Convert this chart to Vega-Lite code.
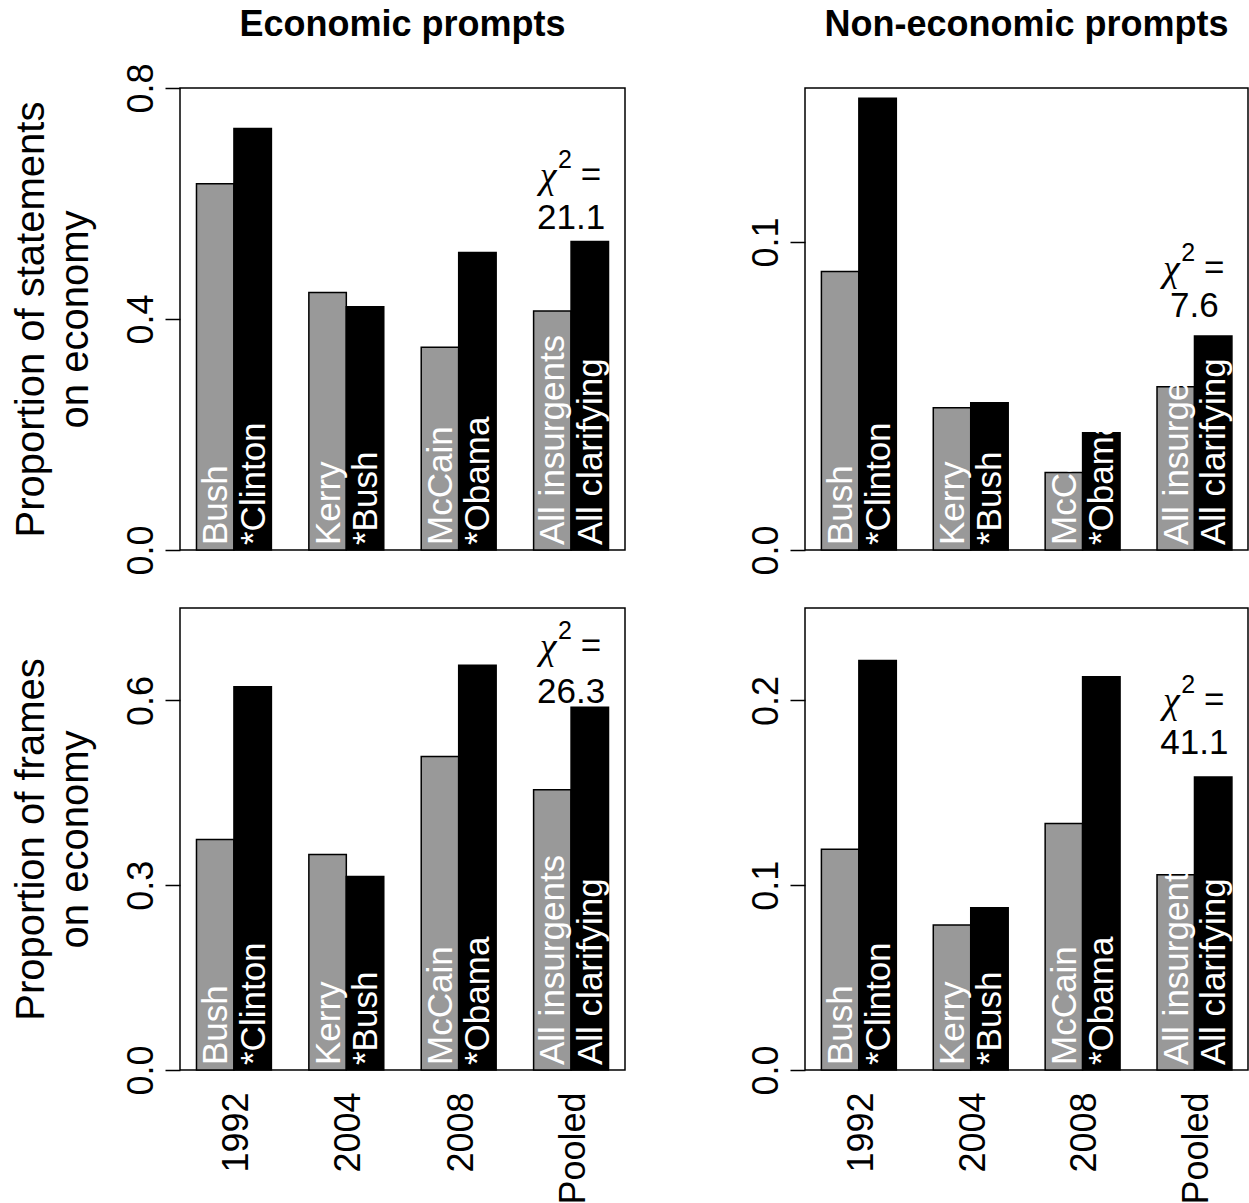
{
  "$schema": "https://vega.github.io/schema/vega-lite/v6.json",
  "background": "white",
  "padding": {"left": 10, "top": 6, "right": 0, "bottom": 0},
  "bounds": "flush",
  "columns": 2,
  "spacing": {"row": 58, "column": 180},
  "config": {
    "font": "Liberation Sans",
    "view": {"stroke": "black", "strokeWidth": 1.5},
    "axis": {
      "labelFont": "Liberation Sans", "labelFontSize": 36, "labelColor": "black",
      "titleFont": "Liberation Sans", "titleFontSize": 40, "titleColor": "black", "titleFontWeight": "normal",
      "tickColor": "black", "domain": false, "grid": false, "labelOverlap": false
    },
    "title": {"font": "Liberation Sans", "fontSize": 36, "fontWeight": "bold", "color": "black"}
  },
  "datasets": {
    "bars": [
      {"panel": "TL", "year": "1992", "side": "ins", "name": "Bush", "value": 0.634},
      {"panel": "TL", "year": "1992", "side": "cla", "name": "*Clinton", "value": 0.730},
      {"panel": "TL", "year": "2004", "side": "ins", "name": "Kerry", "value": 0.446},
      {"panel": "TL", "year": "2004", "side": "cla", "name": "*Bush", "value": 0.421},
      {"panel": "TL", "year": "2008", "side": "ins", "name": "McCain", "value": 0.351},
      {"panel": "TL", "year": "2008", "side": "cla", "name": "*Obama", "value": 0.515},
      {"panel": "TL", "year": "Pooled", "side": "ins", "name": "All insurgents", "value": 0.414},
      {"panel": "TL", "year": "Pooled", "side": "cla", "name": "All clarifying", "value": 0.534},
      {"panel": "TR", "year": "1992", "side": "ins", "name": "Bush", "value": 0.0904},
      {"panel": "TR", "year": "1992", "side": "cla", "name": "*Clinton", "value": 0.1467},
      {"panel": "TR", "year": "2004", "side": "ins", "name": "Kerry", "value": 0.0462},
      {"panel": "TR", "year": "2004", "side": "cla", "name": "*Bush", "value": 0.0478},
      {"panel": "TR", "year": "2008", "side": "ins", "name": "McCain", "value": 0.0252},
      {"panel": "TR", "year": "2008", "side": "cla", "name": "*Obama", "value": 0.0381},
      {"panel": "TR", "year": "Pooled", "side": "ins", "name": "All insurgents", "value": 0.0530},
      {"panel": "TR", "year": "Pooled", "side": "cla", "name": "All clarifying", "value": 0.0695},
      {"panel": "BL", "year": "1992", "side": "ins", "name": "Bush", "value": 0.374},
      {"panel": "BL", "year": "1992", "side": "cla", "name": "*Clinton", "value": 0.622},
      {"panel": "BL", "year": "2004", "side": "ins", "name": "Kerry", "value": 0.350},
      {"panel": "BL", "year": "2004", "side": "cla", "name": "*Bush", "value": 0.314},
      {"panel": "BL", "year": "2008", "side": "ins", "name": "McCain", "value": 0.509},
      {"panel": "BL", "year": "2008", "side": "cla", "name": "*Obama", "value": 0.657},
      {"panel": "BL", "year": "Pooled", "side": "ins", "name": "All insurgents", "value": 0.455},
      {"panel": "BL", "year": "Pooled", "side": "cla", "name": "All clarifying", "value": 0.589},
      {"panel": "BR", "year": "1992", "side": "ins", "name": "Bush", "value": 0.1194},
      {"panel": "BR", "year": "1992", "side": "cla", "name": "*Clinton", "value": 0.2216},
      {"panel": "BR", "year": "2004", "side": "ins", "name": "Kerry", "value": 0.0784},
      {"panel": "BR", "year": "2004", "side": "cla", "name": "*Bush", "value": 0.0878},
      {"panel": "BR", "year": "2008", "side": "ins", "name": "McCain", "value": 0.1334},
      {"panel": "BR", "year": "2008", "side": "cla", "name": "*Obama", "value": 0.2128},
      {"panel": "BR", "year": "Pooled", "side": "ins", "name": "All insurgents", "value": 0.1057},
      {"panel": "BR", "year": "Pooled", "side": "cla", "name": "All clarifying", "value": 0.1586}
    ],
    "chi": [
      {"panel": "TL", "year": "Pooled", "line": 1, "t": "χ2 =", "value": 0.649},
      {"panel": "TL", "year": "Pooled", "line": 2, "t": "21.1", "value": 0.575},
      {"panel": "TR", "year": "Pooled", "line": 1, "t": "χ2 =", "value": 0.0916},
      {"panel": "TR", "year": "Pooled", "line": 2, "t": "7.6", "value": 0.0791},
      {"panel": "BL", "year": "Pooled", "line": 1, "t": "χ2 =", "value": 0.688},
      {"panel": "BL", "year": "Pooled", "line": 2, "t": "26.3", "value": 0.614},
      {"panel": "BR", "year": "Pooled", "line": 1, "t": "χ2 =", "value": 0.200},
      {"panel": "BR", "year": "Pooled", "line": 2, "t": "41.1", "value": 0.1768}
    ]
  },
  "concat": [
    {
      "width": 445, "height": 462,
      "title": {"text": "Economic prompts", "frame": "group", "anchor": "middle", "baseline": "alphabetic", "offset": -9},
      "encoding": {
        "x": {"field": "year", "type": "nominal", "scale": {"domain": ["1992", "2004", "2008", "Pooled"], "paddingInner": 0.33333, "paddingOuter": 0.14667}, "axis": null},
        "y": {"field": "value", "type": "quantitative", "scale": {"domain": [0, 0.8]},
              "axis": {"values": [0, 0.4, 0.8], "format": ".1f", "tickSize": 15, "tickWidth": 1.5, "labelAngle": 270, "labelAlign": "center", "labelBaseline": "alphabetic", "labelPadding": 13, "minExtent": 60, "maxExtent": 60,
                       "title": ["Proportion of statements", "on economy"], "titlePadding": 33, "titleLineHeight": 44, "titleBaseline": "alphabetic", "titleAngle": 270}}
      },
      "layer": [
        {"data": {"name": "bars"}, "transform": [{"filter": "datum.panel === 'TL'"}],
         "mark": {"type": "bar", "stroke": "black", "strokeWidth": 1.5},
         "encoding": {
           "xOffset": {"field": "side", "type": "nominal", "scale": {"domain": ["ins", "cla"]}},
           "color": {"field": "side", "type": "nominal", "scale": {"domain": ["ins", "cla"], "range": ["#999999", "#000000"]}, "legend": null}
         }},
        {"data": {"name": "bars"}, "transform": [{"filter": "datum.panel === 'TL'"}],
         "mark": {"type": "text", "angle": 270, "align": "left", "baseline": "alphabetic", "dx": 5, "dy": 12, "fontSize": 35, "fill": "white"},
         "encoding": {
           "xOffset": {"field": "side", "type": "nominal", "scale": {"domain": ["ins", "cla"]}},
           "y": {"datum": 0, "type": "quantitative"},
           "text": {"field": "name"}
         }},
        {"data": {"name": "chi"}, "transform": [{"filter": "datum.panel === 'TL' && datum.line === 1"}],
         "mark": {"type": "text", "text": "χ", "font": "Liberation Serif", "fontStyle": "italic", "align": "center", "baseline": "middle", "dx": -23, "dy": 2, "fontSize": 38, "fill": "black"}},
        {"data": {"name": "chi"}, "transform": [{"filter": "datum.panel === 'TL' && datum.line === 1"}],
         "mark": {"type": "text", "text": "2", "align": "center", "baseline": "middle", "dx": -6, "dy": -15, "fontSize": 25, "fill": "black"}},
        {"data": {"name": "chi"}, "transform": [{"filter": "datum.panel === 'TL' && datum.line === 1"}],
         "mark": {"type": "text", "text": "=", "align": "center", "baseline": "middle", "dx": 20, "fontSize": 35, "fill": "black"}},
        {"data": {"name": "chi"}, "transform": [{"filter": "datum.panel === 'TL' && datum.line === 2"}],
         "mark": {"type": "text", "align": "center", "baseline": "middle", "fontSize": 35, "fill": "black"},
         "encoding": {"text": {"field": "t"}}}
      ]
    },
    {
      "width": 443, "height": 462,
      "title": {"text": "Non-economic prompts", "frame": "group", "anchor": "middle", "baseline": "alphabetic", "offset": 16},
      "encoding": {
        "x": {"field": "year", "type": "nominal", "scale": {"domain": ["1992", "2004", "2008", "Pooled"], "paddingInner": 0.33333, "paddingOuter": 0.14667}, "axis": null},
        "y": {"field": "value", "type": "quantitative", "scale": {"domain": [0, 0.15]},
              "axis": {"values": [0, 0.1], "format": ".1f", "tickSize": 15, "tickWidth": 1.5, "labelAngle": 270, "labelAlign": "center", "labelBaseline": "alphabetic", "labelPadding": 13, "minExtent": 60, "maxExtent": 60, "title": null}}
      },
      "layer": [
        {"data": {"name": "bars"}, "transform": [{"filter": "datum.panel === 'TR'"}],
         "mark": {"type": "bar", "stroke": "black", "strokeWidth": 1.5},
         "encoding": {
           "xOffset": {"field": "side", "type": "nominal", "scale": {"domain": ["ins", "cla"]}},
           "color": {"field": "side", "type": "nominal", "scale": {"domain": ["ins", "cla"], "range": ["#999999", "#000000"]}, "legend": null}
         }},
        {"data": {"name": "bars"}, "transform": [{"filter": "datum.panel === 'TR'"}],
         "mark": {"type": "text", "angle": 270, "align": "left", "baseline": "alphabetic", "dx": 5, "dy": 12, "fontSize": 35, "fill": "white"},
         "encoding": {
           "xOffset": {"field": "side", "type": "nominal", "scale": {"domain": ["ins", "cla"]}},
           "y": {"datum": 0, "type": "quantitative"},
           "text": {"field": "name"}
         }},
        {"data": {"name": "chi"}, "transform": [{"filter": "datum.panel === 'TR' && datum.line === 1"}],
         "mark": {"type": "text", "text": "χ", "font": "Liberation Serif", "fontStyle": "italic", "align": "center", "baseline": "middle", "dx": -23, "dy": 2, "fontSize": 38, "fill": "black"}},
        {"data": {"name": "chi"}, "transform": [{"filter": "datum.panel === 'TR' && datum.line === 1"}],
         "mark": {"type": "text", "text": "2", "align": "center", "baseline": "middle", "dx": -6, "dy": -15, "fontSize": 25, "fill": "black"}},
        {"data": {"name": "chi"}, "transform": [{"filter": "datum.panel === 'TR' && datum.line === 1"}],
         "mark": {"type": "text", "text": "=", "align": "center", "baseline": "middle", "dx": 20, "fontSize": 35, "fill": "black"}},
        {"data": {"name": "chi"}, "transform": [{"filter": "datum.panel === 'TR' && datum.line === 2"}],
         "mark": {"type": "text", "align": "center", "baseline": "middle", "fontSize": 35, "fill": "black"},
         "encoding": {"text": {"field": "t"}}}
      ]
    },
    {
      "width": 445, "height": 462,
      "encoding": {
        "x": {"field": "year", "type": "nominal", "scale": {"domain": ["1992", "2004", "2008", "Pooled"], "paddingInner": 0.33333, "paddingOuter": 0.14667},
              "axis": {"title": null, "labelAngle": 270, "labelAlign": "right", "labelBaseline": "middle", "ticks": false, "tickSize": 0, "domain": false, "labelPadding": 22, "labelOffset": 3}},
        "y": {"field": "value", "type": "quantitative", "scale": {"domain": [0, 0.75]},
              "axis": {"values": [0, 0.3, 0.6], "format": ".1f", "tickSize": 15, "tickWidth": 1.5, "labelAngle": 270, "labelAlign": "center", "labelBaseline": "alphabetic", "labelPadding": 13, "minExtent": 60, "maxExtent": 60,
                       "title": ["Proportion of frames", "on economy"], "titlePadding": 33, "titleLineHeight": 44, "titleBaseline": "alphabetic", "titleAngle": 270}}
      },
      "layer": [
        {"data": {"name": "bars"}, "transform": [{"filter": "datum.panel === 'BL'"}],
         "mark": {"type": "bar", "stroke": "black", "strokeWidth": 1.5},
         "encoding": {
           "xOffset": {"field": "side", "type": "nominal", "scale": {"domain": ["ins", "cla"]}},
           "color": {"field": "side", "type": "nominal", "scale": {"domain": ["ins", "cla"], "range": ["#999999", "#000000"]}, "legend": null}
         }},
        {"data": {"name": "bars"}, "transform": [{"filter": "datum.panel === 'BL'"}],
         "mark": {"type": "text", "angle": 270, "align": "left", "baseline": "alphabetic", "dx": 5, "dy": 12, "fontSize": 35, "fill": "white"},
         "encoding": {
           "xOffset": {"field": "side", "type": "nominal", "scale": {"domain": ["ins", "cla"]}},
           "y": {"datum": 0, "type": "quantitative"},
           "text": {"field": "name"}
         }},
        {"data": {"name": "chi"}, "transform": [{"filter": "datum.panel === 'BL' && datum.line === 1"}],
         "mark": {"type": "text", "text": "χ", "font": "Liberation Serif", "fontStyle": "italic", "align": "center", "baseline": "middle", "dx": -23, "dy": 2, "fontSize": 38, "fill": "black"}},
        {"data": {"name": "chi"}, "transform": [{"filter": "datum.panel === 'BL' && datum.line === 1"}],
         "mark": {"type": "text", "text": "2", "align": "center", "baseline": "middle", "dx": -6, "dy": -15, "fontSize": 25, "fill": "black"}},
        {"data": {"name": "chi"}, "transform": [{"filter": "datum.panel === 'BL' && datum.line === 1"}],
         "mark": {"type": "text", "text": "=", "align": "center", "baseline": "middle", "dx": 20, "fontSize": 35, "fill": "black"}},
        {"data": {"name": "chi"}, "transform": [{"filter": "datum.panel === 'BL' && datum.line === 2"}],
         "mark": {"type": "text", "align": "center", "baseline": "middle", "fontSize": 35, "fill": "black"},
         "encoding": {"text": {"field": "t"}}}
      ]
    },
    {
      "width": 443, "height": 462,
      "encoding": {
        "x": {"field": "year", "type": "nominal", "scale": {"domain": ["1992", "2004", "2008", "Pooled"], "paddingInner": 0.33333, "paddingOuter": 0.14667},
              "axis": {"title": null, "labelAngle": 270, "labelAlign": "right", "labelBaseline": "middle", "ticks": false, "tickSize": 0, "domain": false, "labelPadding": 22, "labelOffset": 3}},
        "y": {"field": "value", "type": "quantitative", "scale": {"domain": [0, 0.25]},
              "axis": {"values": [0, 0.1, 0.2], "format": ".1f", "tickSize": 15, "tickWidth": 1.5, "labelAngle": 270, "labelAlign": "center", "labelBaseline": "alphabetic", "labelPadding": 13, "minExtent": 60, "maxExtent": 60, "title": null}}
      },
      "layer": [
        {"data": {"name": "bars"}, "transform": [{"filter": "datum.panel === 'BR'"}],
         "mark": {"type": "bar", "stroke": "black", "strokeWidth": 1.5},
         "encoding": {
           "xOffset": {"field": "side", "type": "nominal", "scale": {"domain": ["ins", "cla"]}},
           "color": {"field": "side", "type": "nominal", "scale": {"domain": ["ins", "cla"], "range": ["#999999", "#000000"]}, "legend": null}
         }},
        {"data": {"name": "bars"}, "transform": [{"filter": "datum.panel === 'BR'"}],
         "mark": {"type": "text", "angle": 270, "align": "left", "baseline": "alphabetic", "dx": 5, "dy": 12, "fontSize": 35, "fill": "white"},
         "encoding": {
           "xOffset": {"field": "side", "type": "nominal", "scale": {"domain": ["ins", "cla"]}},
           "y": {"datum": 0, "type": "quantitative"},
           "text": {"field": "name"}
         }},
        {"data": {"name": "chi"}, "transform": [{"filter": "datum.panel === 'BR' && datum.line === 1"}],
         "mark": {"type": "text", "text": "χ", "font": "Liberation Serif", "fontStyle": "italic", "align": "center", "baseline": "middle", "dx": -23, "dy": 2, "fontSize": 38, "fill": "black"}},
        {"data": {"name": "chi"}, "transform": [{"filter": "datum.panel === 'BR' && datum.line === 1"}],
         "mark": {"type": "text", "text": "2", "align": "center", "baseline": "middle", "dx": -6, "dy": -15, "fontSize": 25, "fill": "black"}},
        {"data": {"name": "chi"}, "transform": [{"filter": "datum.panel === 'BR' && datum.line === 1"}],
         "mark": {"type": "text", "text": "=", "align": "center", "baseline": "middle", "dx": 20, "fontSize": 35, "fill": "black"}},
        {"data": {"name": "chi"}, "transform": [{"filter": "datum.panel === 'BR' && datum.line === 2"}],
         "mark": {"type": "text", "align": "center", "baseline": "middle", "fontSize": 35, "fill": "black"},
         "encoding": {"text": {"field": "t"}}}
      ]
    }
  ]
}
